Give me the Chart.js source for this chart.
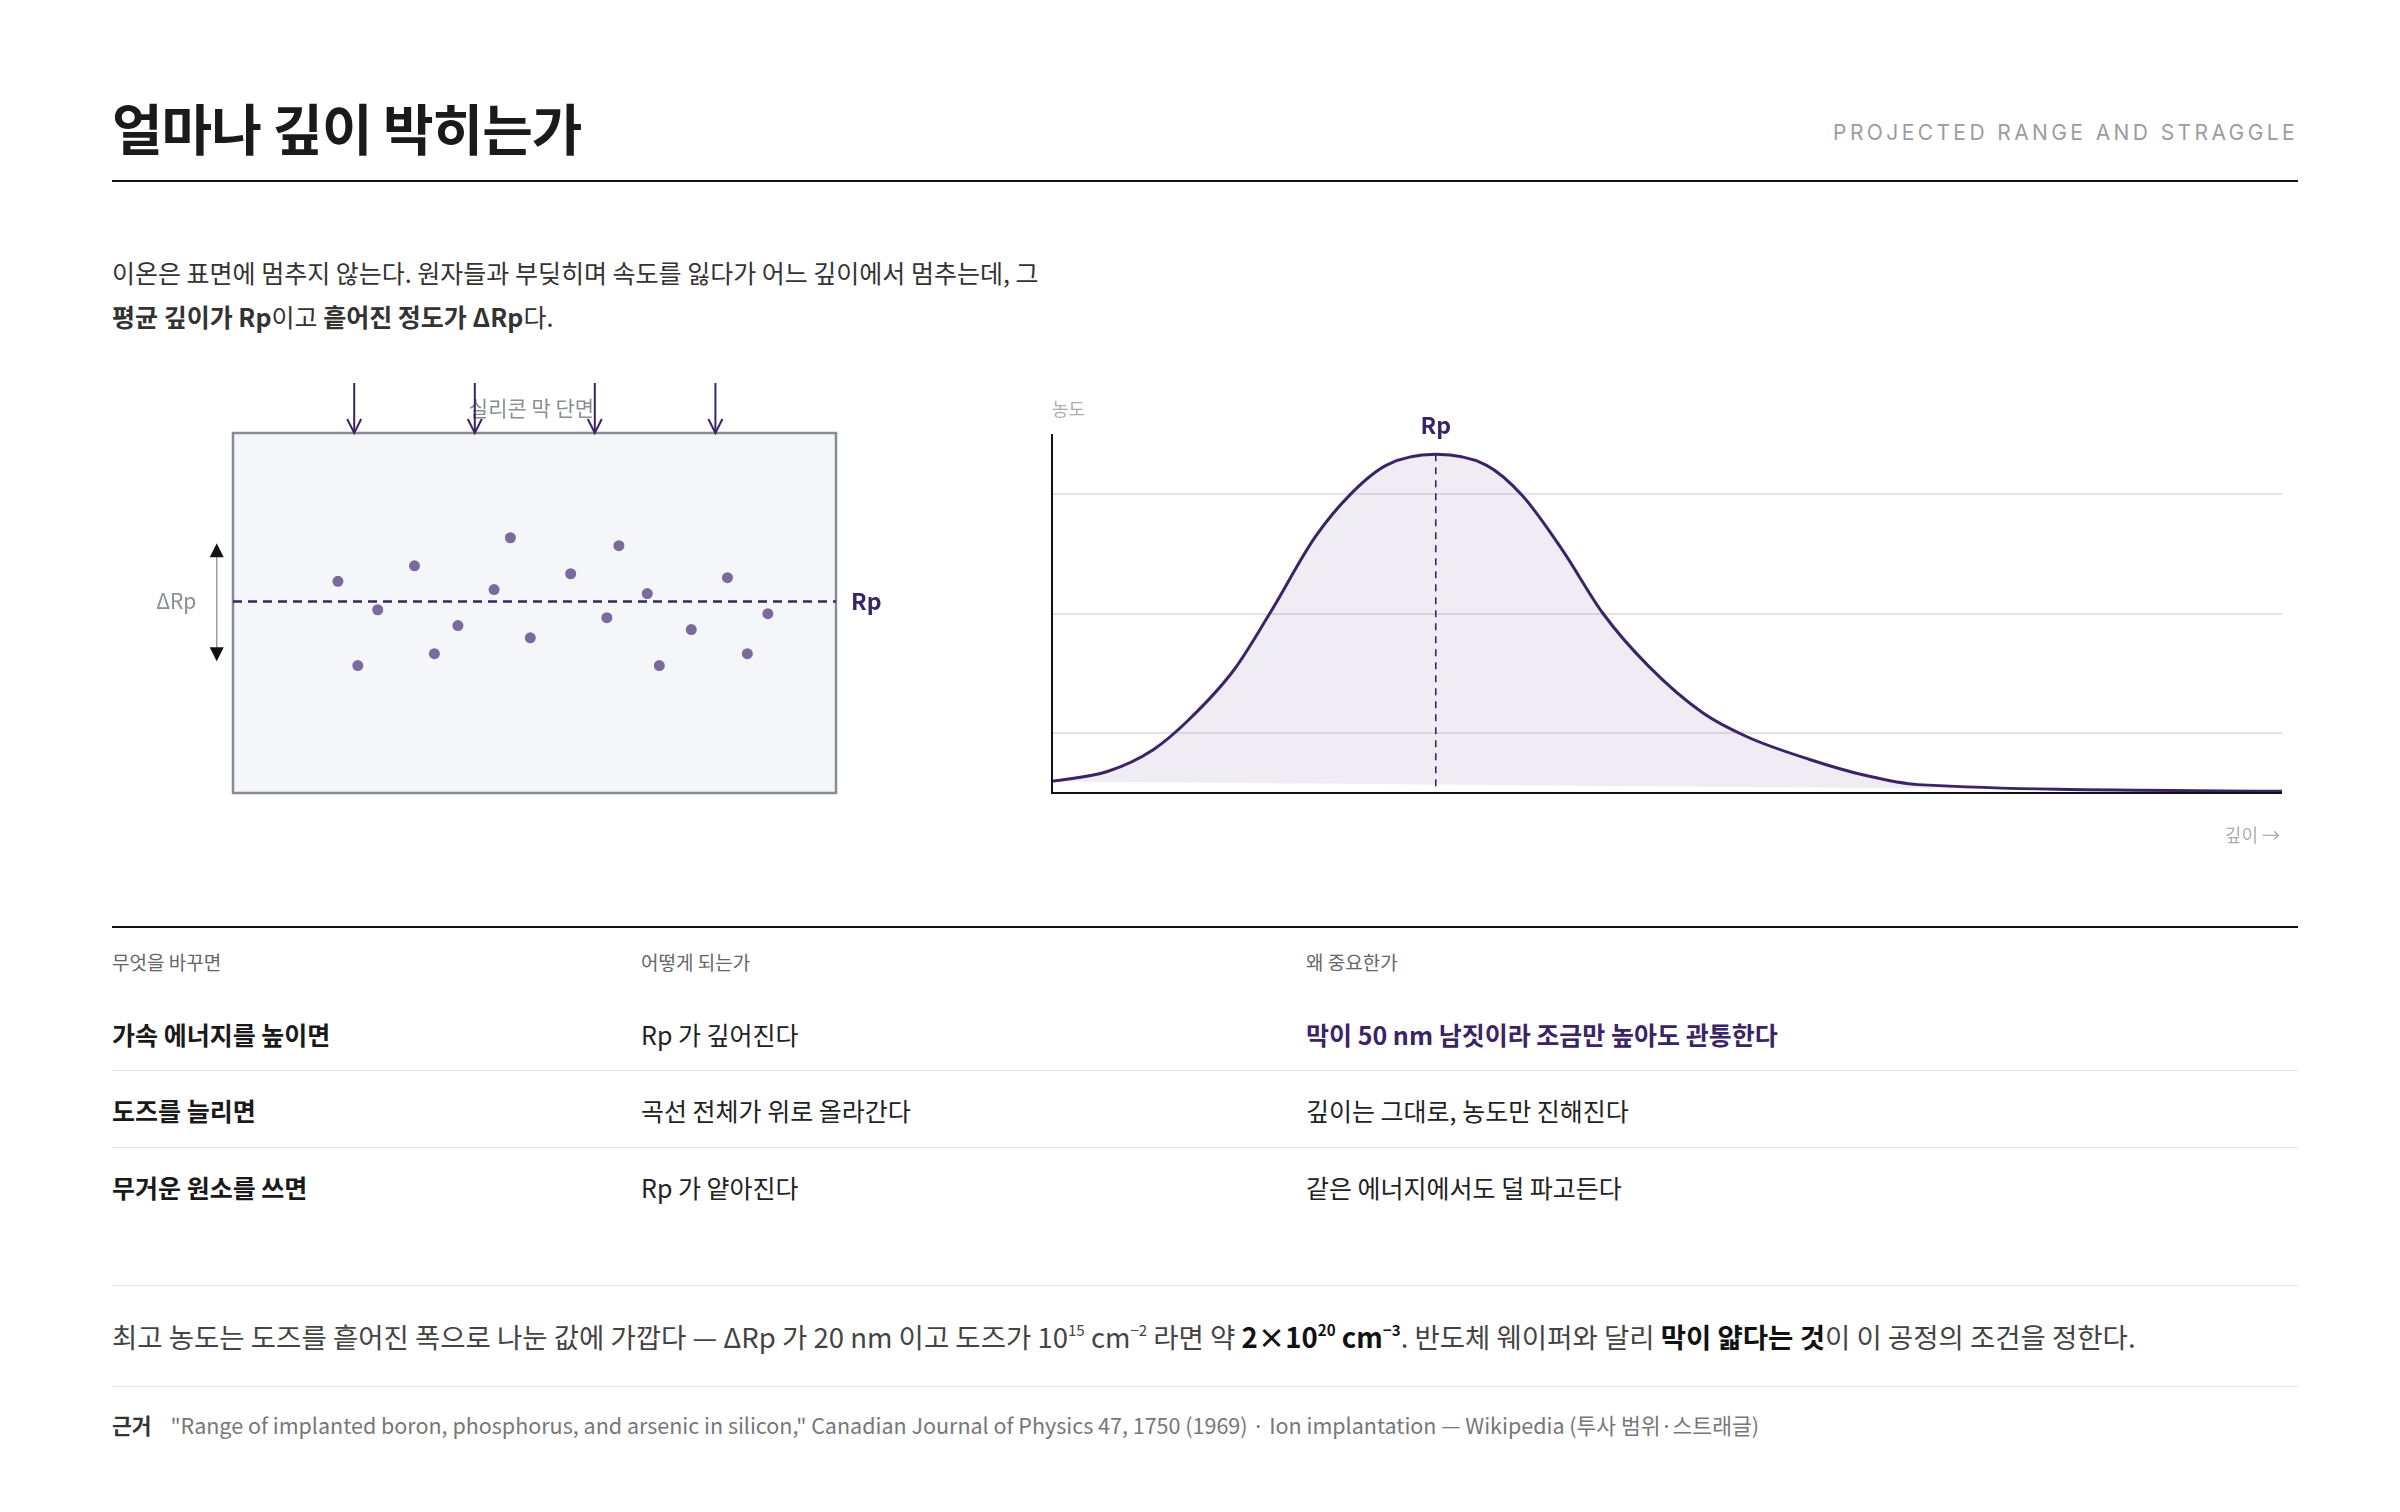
<!DOCTYPE html>
<html><head><meta charset="utf-8">
<script src="https://cdn.jsdelivr.net/npm/chart.js@4.4.1/dist/chart.umd.min.js"></script>
<style>
html,body{margin:0;padding:0;background:#fff;width:2400px;height:1512px;overflow:hidden;font-family:"Noto Sans CJK KR","Noto Sans",sans-serif;color:#222}
.a{position:absolute;white-space:nowrap}
.rule{position:absolute;left:112px;width:2186px;height:0}
b{font-weight:700}
sup{font-size:0.55em;vertical-align:0.8em;line-height:0}
</style></head><body>
<div class="a" style="left:112px;top:86px;font-size:55px;font-weight:700;color:#1a1a1a;letter-spacing:-1px">얼마나 깊이 박히는가</div>
<div class="a" style="right:102px;top:120px;font-size:21px;letter-spacing:3.4px;color:#9a9ca3;font-family:Inter,sans-serif">PROJECTED RANGE AND STRAGGLE</div>
<div class="rule" style="top:180px;border-top:2px solid #111"></div>
<div class="a" style="left:112px;top:250px;font-size:25px;line-height:44px;color:#333">이온은 표면에 멈추지 않는다. 원자들과 부딪히며 속도를 잃다가 어느 깊이에서 멈추는데, 그<br><b>평균 깊이가 Rp</b>이고 <b>흩어진 정도가 ΔRp</b>다.</div>

<div class="a" style="left:150px;top:370px;width:760px;height:440px"><canvas id="left" width="760" height="440"></canvas></div>
<div class="a" style="left:1040px;top:390px;width:1260px;height:460px"><canvas id="right" width="1260" height="460"></canvas></div>

<div class="rule" style="top:926px;border-top:2px solid #111"></div>
<div class="a" style="left:112px;top:948px;font-size:19px;color:#666">무엇을 바꾸면</div>
<div class="a" style="left:641px;top:948px;font-size:19px;color:#666">어떻게 되는가</div>
<div class="a" style="left:1306px;top:948px;font-size:19px;color:#666">왜 중요한가</div>
<div class="a" style="left:112px;top:1016px;font-size:25px;font-weight:700;color:#1a1a1a">가속 에너지를 높이면</div>
<div class="a" style="left:641px;top:1016px;font-size:25px;color:#222">Rp 가 깊어진다</div>
<div class="a" style="left:1306px;top:1016px;font-size:25px;font-weight:700;color:#3b2466">막이 50 nm 남짓이라 조금만 높아도 관통한다</div>
<div class="rule" style="top:1070px;border-top:1.5px solid #e3e3e6"></div>
<div class="a" style="left:112px;top:1092px;font-size:25px;font-weight:700;color:#1a1a1a">도즈를 늘리면</div>
<div class="a" style="left:641px;top:1092px;font-size:25px;color:#222">곡선 전체가 위로 올라간다</div>
<div class="a" style="left:1306px;top:1092px;font-size:25px;color:#222">깊이는 그대로, 농도만 진해진다</div>
<div class="rule" style="top:1147px;border-top:1.5px solid #e3e3e6"></div>
<div class="a" style="left:112px;top:1169px;font-size:25px;font-weight:700;color:#1a1a1a">무거운 원소를 쓰면</div>
<div class="a" style="left:641px;top:1169px;font-size:25px;color:#222">Rp 가 얕아진다</div>
<div class="a" style="left:1306px;top:1169px;font-size:25px;color:#222">같은 에너지에서도 덜 파고든다</div>
<div class="rule" style="top:1285px;border-top:1.5px solid #e3e3e6"></div>
<div class="a" style="left:112px;top:1316px;font-size:27.5px;color:#444">최고 농도는 도즈를 흩어진 폭으로 나눈 값에 가깝다 — ΔRp 가 20 nm 이고 도즈가 10<sup>15</sup> cm<sup>−2</sup> 라면 약 <b style="color:#111">2×10<sup>20</sup> cm<sup>−3</sup></b>. 반도체 웨이퍼와 달리 <b style="color:#111">막이 얇다는 것</b>이 이 공정의 조건을 정한다.</div>
<div class="rule" style="top:1386px;border-top:1.5px solid #e3e3e6"></div>
<div class="a" style="left:112px;top:1409px;font-size:21.5px;color:#777"><span style="color:#333;font-weight:700;margin-right:14px">근거</span> "Range of implanted boron, phosphorus, and arsenic in silicon," Canadian Journal of Physics 47, 1750 (1969) · Ion implantation — Wikipedia (투사 범위·스트래글)</div>

<script>
// Left diagram: ion positions in cross-section (x: 0-100 width, y: depth 0-100)
const ionX = [17.4,30.1,46.0,64.0,56.0,43.3,68.7,82.0,24.0,37.3,49.3,62.0,76.0,88.7,20.7,33.4,70.7,85.3];
const ionY = [41.2,36.9,29.1,31.3,39.1,43.5,44.6,40.2,49.1,53.5,56.9,51.3,54.6,50.2,64.6,61.3,64.6,61.3];
const rpDepth = 46.8;
const straggleTop = 30.6, straggleBottom = 63.4;
const beamX = [20.1,40.1,60.0,80.0];
// Right chart: concentration profile vs depth
const depth = [0,4.5,8.2,11.1,14.8,17.7,21.4,24.3,27.2,31.2,35.3,38.2,41.5,44.8,48.5,52.9,56.5,61.6,66,70.4,100];
const conc  = [0.097,0.18,0.36,0.61,1.03,1.5,2.14,2.5,2.74,2.83,2.74,2.49,2.03,1.5,1.06,0.67,0.47,0.28,0.15,0.07,0.014];
const rpX = 31.2;
const gridTicks = [0.5,1.5,2.5];

const PURPLE = '#3b2466';
const KR = '"Noto Sans CJK KR", sans-serif';

const leftPlugin = {
  id:'leftDeco',
  beforeDatasetsDraw(c){
    const {ctx, scales:{x,y}} = c;
    const l=x.getPixelForValue(0), r=x.getPixelForValue(100), t=y.getPixelForValue(0), b=y.getPixelForValue(100);
    ctx.save();
    ctx.fillStyle='#f5f6f9'; ctx.fillRect(l,t,r-l,b-t);
    ctx.strokeStyle='#878b94'; ctx.lineWidth=2.5; ctx.strokeRect(l,t,r-l,b-t);
    // label
    ctx.fillStyle='#8a8d94'; ctx.font='21px '+KR; ctx.textAlign='center'; ctx.textBaseline='middle';
    ctx.fillText('실리콘 막 단면', (l+r)/2 - 3, t-25);
    // arrows
    ctx.strokeStyle=PURPLE; ctx.lineWidth=2;
    beamX.forEach(v=>{const px=x.getPixelForValue(v);
      ctx.beginPath(); ctx.moveTo(px,t-50); ctx.lineTo(px,t); ctx.stroke();
      ctx.beginPath(); ctx.moveTo(px-7,t-14); ctx.lineTo(px,t); ctx.lineTo(px+7,t-14); ctx.stroke();});
    // Rp line
    const ry=y.getPixelForValue(rpDepth);
    ctx.setLineDash([9,6]); ctx.lineWidth=2.5;
    ctx.beginPath(); ctx.moveTo(l,ry); ctx.lineTo(r,ry); ctx.stroke(); ctx.setLineDash([]);
    ctx.fillStyle=PURPLE; ctx.font='bold 23px '+KR; ctx.textAlign='left';
    ctx.fillText('Rp', r+15, ry);
    // straggle arrow
    const ax=x.getPixelForValue(-2.7), y1=y.getPixelForValue(straggleTop), y2=y.getPixelForValue(straggleBottom);
    ctx.strokeStyle='#9a9ca3'; ctx.lineWidth=1.5;
    ctx.beginPath(); ctx.moveTo(ax,y1+8); ctx.lineTo(ax,y2-8); ctx.stroke();
    ctx.fillStyle='#111';
    ctx.beginPath(); ctx.moveTo(ax,y1); ctx.lineTo(ax-7,y1+14); ctx.lineTo(ax+7,y1+14); ctx.fill();
    ctx.beginPath(); ctx.moveTo(ax,y2); ctx.lineTo(ax-7,y2-14); ctx.lineTo(ax+7,y2-14); ctx.fill();
    ctx.fillStyle='#8a8d94'; ctx.font='21px '+KR; ctx.textAlign='center';
    ctx.fillText('ΔRp', x.getPixelForValue(-9.4), ry);
    ctx.restore();
  }
};
new Chart(document.getElementById('left'),{
  type:'scatter',
  data:{datasets:[{data:ionX.map((v,i)=>({x:v,y:ionY[i]})),backgroundColor:'#7b6a9c',borderWidth:0,pointRadius:5.5}]},
  options:{responsive:false,animation:false,events:[],
    layout:{padding:{left:83,right:74,top:63,bottom:17}},
    plugins:{legend:{display:false},tooltip:{enabled:false}},
    scales:{x:{type:'linear',min:0,max:100,display:false},y:{type:'linear',min:0,max:100,reverse:true,display:false}}},
  plugins:[leftPlugin]
});

const rightPlugin = {
  id:'rightDeco',
  afterDatasetsDraw(c){
    const {ctx, chartArea:a, scales:{x,y}} = c;
    ctx.save();
    const px=x.getPixelForValue(rpX);
    ctx.strokeStyle=PURPLE; ctx.lineWidth=1.6; ctx.setLineDash([7,6]);
    ctx.beginPath(); ctx.moveTo(px,y.getPixelForValue(2.83)); ctx.lineTo(px,a.bottom); ctx.stroke(); ctx.setLineDash([]);
    ctx.fillStyle=PURPLE; ctx.font='bold 23px '+KR; ctx.textAlign='center'; ctx.textBaseline='middle';
    ctx.fillText('Rp', px, y.getPixelForValue(2.83)-29);
    ctx.fillStyle='#aaadb3'; ctx.font='18px '+KR; ctx.textAlign='left';
    ctx.fillText('농도', a.left, a.top-25);
    ctx.textAlign='right';
    ctx.fillText('깊이 →', a.right-2, a.bottom+42);
    // axes
    ctx.strokeStyle='#111'; ctx.lineWidth=2;
    ctx.beginPath(); ctx.moveTo(a.left,a.top); ctx.lineTo(a.left,a.bottom); ctx.lineTo(a.right,a.bottom); ctx.stroke();
    ctx.restore();
  }
};
new Chart(document.getElementById('right'),{
  type:'scatter',
  data:{datasets:[
    {data:depth.map((v,i)=>({x:v,y:conc[i]})),showLine:true,borderColor:PURPLE,borderWidth:3,pointRadius:0,
     cubicInterpolationMode:'monotone',fill:1,backgroundColor:'rgba(120,100,160,0.12)'},
    {data:[{x:depth[0],y:conc[0]},{x:depth[depth.length-1],y:conc[conc.length-1]}],showLine:true,borderWidth:0,pointRadius:0,borderColor:'rgba(0,0,0,0)'}
  ]},
  options:{responsive:false,animation:false,events:[],
    layout:{padding:{left:12,right:18,top:44,bottom:57}},
    plugins:{legend:{display:false},tooltip:{enabled:false}},
    scales:{
      x:{type:'linear',min:0,max:100,display:false},
      y:{type:'linear',min:0,max:3,display:true,border:{display:false},
         afterBuildTicks(s){s.ticks=gridTicks.map(v=>({value:v}));},
         ticks:{display:false},grid:{color:'#e4e4e8',lineWidth:2,drawTicks:false}}
    }},
  plugins:[rightPlugin]
});
</script>
</body></html>
